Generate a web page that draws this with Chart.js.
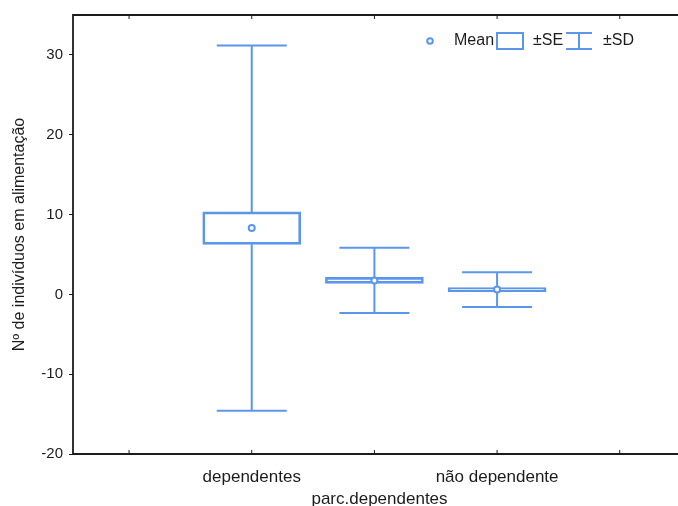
<!DOCTYPE html>
<html>
<head>
<meta charset="utf-8">
<script src="https://cdn.jsdelivr.net/npm/chart.js@4"></script>
<style>
  html, body { margin: 0; padding: 0; background: #fff; overflow: hidden; }
  #wrap { width: 692px; height: 510px; position: relative; }
</style>
</head>
<body>
<div id="wrap"><canvas id="chart"></canvas></div>
<script>
  // data
  const groups = ['', 'dependentes', '', 'não dependente', ''];
  const means = [null, 8.3, 1.75, 0.6, null];
  const se = [null, 2.03, 0.37, 0.25, null];
  const sd = [null, 22.88, 4.1, 2.17, null];
  const yTicks = [-20, -10, 0, 10, 20, 30];

  const blue = '#5b96ea';
  const ink = '#1c1c1c';
  const font = 'Arial, "Liberation Sans", sans-serif';

  const seBoxes = [];
  const meanPts = [];
  groups.forEach(function(g, i) {
    if (means[i] === null) return;
    seBoxes.push({ x: i, y: [means[i] - se[i], means[i] + se[i]] });
    meanPts.push({ x: i, y: means[i] });
  });

  // whiskers (±SD), inner x ticks, frame and legend
  const extras = {
    id: 'extras',
    beforeDatasetsDraw(chart) {
      const c = chart.ctx, xs = chart.scales.x, ys = chart.scales.y;
      c.save();
      c.strokeStyle = blue;
      c.lineWidth = 2;
      groups.forEach(function(g, i) {
        if (means[i] === null) return;
        const x = xs.getPixelForValue(i);
        const hi = ys.getPixelForValue(means[i] + sd[i]);
        const lo = ys.getPixelForValue(means[i] - sd[i]);
        const seHi = ys.getPixelForValue(means[i] + se[i]);
        const seLo = ys.getPixelForValue(means[i] - se[i]);
        c.beginPath();
        c.moveTo(x, hi); c.lineTo(x, seHi);
        c.moveTo(x, seLo); c.lineTo(x, lo);
        c.moveTo(x - 35, hi); c.lineTo(x + 35, hi);
        c.moveTo(x - 35, lo); c.lineTo(x + 35, lo);
        c.stroke();
      });
      c.restore();
    },
    afterDraw(chart) {
      const c = chart.ctx, a = chart.chartArea, xs = chart.scales.x;
      c.save();
      c.strokeStyle = ink;
      c.lineWidth = 1.8;
      c.beginPath();
      c.moveTo(a.right, a.top); c.lineTo(a.left, a.top);
      c.lineTo(a.left, a.bottom); c.lineTo(a.right, a.bottom);
      c.stroke();
      c.lineWidth = 1;
      groups.forEach(function(g, i) {
        const x = xs.getPixelForValue(i);
        c.beginPath();
        c.moveTo(x, a.bottom); c.lineTo(x, a.bottom - 4);
        c.moveTo(x, a.top); c.lineTo(x, a.top + 4);
        c.stroke();
      });

      // legend
      const ly = 41;
      c.strokeStyle = blue;
      c.lineWidth = 2;
      c.fillStyle = '#fff';
      c.beginPath(); c.arc(430, ly, 2.8, 0, Math.PI * 2); c.fill(); c.stroke();
      c.strokeRect(497, 33, 26, 16);
      c.beginPath();
      c.moveTo(566, 33); c.lineTo(592, 33);
      c.moveTo(579, 33); c.lineTo(579, 49);
      c.moveTo(566, 49); c.lineTo(592, 49);
      c.stroke();
      c.fillStyle = ink;
      c.font = '16px ' + font;
      c.textBaseline = 'middle';
      c.textAlign = 'left';
      c.fillText('Mean', 454, ly);
      c.fillText('±SE', 533, ly);
      c.fillText('±SD', 603, ly);
      c.restore();
    }
  };

  new Chart(document.getElementById('chart'), {
    type: 'bar',
    data: {
      datasets: [{
        type: 'scatter',
        label: 'Mean',
        data: meanPts,
        pointRadius: 3,
        pointBorderWidth: 2,
        borderColor: blue,
        backgroundColor: '#fff',
        order: 0
      }, {
        label: '±SE',
        data: seBoxes,
        borderColor: blue,
        backgroundColor: 'rgba(255,255,255,0)',
        borderWidth: 2,
        borderSkipped: false,
        barThickness: 98,
        order: 1
      }]
    },
    plugins: [extras],
    options: {
      responsive: true,
      maintainAspectRatio: false,
      animation: false,
      layout: { padding: { top: 15, right: 2, left: 0, bottom: 0 } },
      plugins: { legend: { display: false }, tooltip: { enabled: false } },
      scales: {
        x: {
          type: 'linear',
          offset: false,
          min: -0.457,
          max: 4.54,
          grid: { display: false, drawTicks: false, offset: false },
          border: { display: false },
          afterBuildTicks: function(scale) {
            scale.ticks = groups.map(function(g, i) { return { value: i }; });
          },
          afterFit: function(scale) { scale.height = 56; },
          ticks: {
            autoSkip: false,
            maxRotation: 0,
            padding: 13,
            color: ink,
            font: { size: 17, family: font },
            callback: function(v) { return groups[v]; }
          },
          title: {
            display: true,
            text: 'parc.dependentes',
            color: ink,
            font: { size: 17, family: font },
            padding: { top: 0, bottom: 0 }
          }
        },
        y: {
          min: -20,
          max: 35,
          afterBuildTicks: function(scale) {
            scale.ticks = yTicks.map(function(v) { return { value: v }; });
          },
          afterFit: function(scale) { scale.width = 73; },
          grid: { drawOnChartArea: false, tickLength: 4, color: ink },
          border: { display: false },
          ticks: {
            padding: 6,
            color: ink,
            font: { size: 15, family: font }
          },
          title: {
            display: true,
            text: 'Nº de indivíduos em alimentação',
            color: ink,
            font: { size: 16, family: font },
            padding: { top: 10, bottom: 0 }
          }
        }
      }
    }
  });
</script>
</body>
</html>
